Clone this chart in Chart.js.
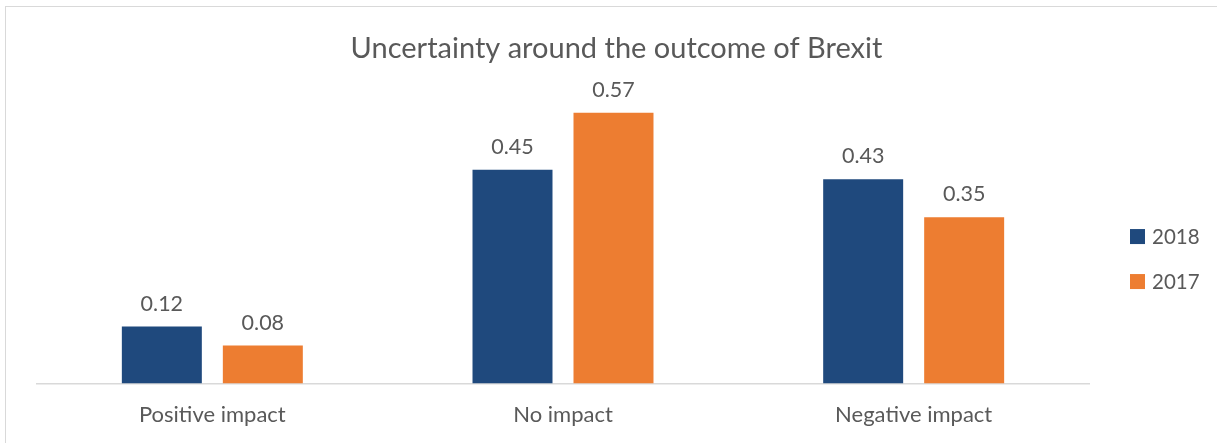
<!DOCTYPE html>
<html>
<head>
<meta charset="utf-8">
<script src="https://cdn.jsdelivr.net/npm/chart.js@4/dist/chart.umd.min.js"></script>
<style>
  html, body { margin: 0; padding: 0; background: #fff; overflow: hidden; }
  #wrap { position: relative; width: 1217px; height: 443px; }
  #frame { position: absolute; left: 5px; top: 6px; width: 1240px; height: 460px; border: 1.5px solid #d9d9d9; box-sizing: border-box; }
  canvas { position: absolute; left: 0; top: 0; }
</style>
</head>
<body>
<div id="wrap">
  <div id="frame"></div>
  <canvas id="brexitChart" width="1217" height="443"></canvas>
</div>
<script>
const categories = ['Positive impact', 'No impact', 'Negative impact'];
const seriesNames = ['2018', '2017'];
const values2018 = [0.12, 0.45, 0.43];
const values2017 = [0.08, 0.57, 0.35];
const colors = ['#1f497d', '#ed7d31'];
const chartTitle = 'Uncertainty around the outcome of Brexit';

const textColor = '#595959';
const fontFamily = 'Lato, "Open Sans", sans-serif';

// title centred on the whole frame, not only the plot area
const frameTitle = {
    id: 'frameTitle',
    afterDraw(chart) {
        const ctx = chart.ctx;
        ctx.save();
        ctx.font = '29px ' + fontFamily;
        ctx.fillStyle = textColor;
        ctx.textAlign = 'center';
        ctx.textBaseline = 'middle';
        ctx.fillText(chartTitle, chart.width / 2 + 8, 49);
        ctx.restore();
    }
};

// value labels above each bar
const valueLabels = {
    id: 'valueLabels',
    afterDatasetsDraw(chart) {
        const ctx = chart.ctx;
        ctx.save();
        ctx.font = '21.5px ' + fontFamily;
        ctx.fillStyle = textColor;
        ctx.textAlign = 'center';
        ctx.textBaseline = 'bottom';
        chart.data.datasets.forEach((ds, i) => {
            chart.getDatasetMeta(i).data.forEach((bar, j) => {
                ctx.fillText(ds.data[j].toFixed(2), bar.x, bar.y - 12);
            });
        });
        ctx.restore();
    }
};

// legend on the right, drawn by hand so it sits like the original
const sideLegend = {
    id: 'sideLegend',
    afterDraw(chart) {
        const ctx = chart.ctx;
        const area = chart.chartArea;
        const x = area.right + 41;
        const midY = (area.top + area.bottom) / 2 + 18;
        ctx.save();
        ctx.font = '20.5px ' + fontFamily;
        ctx.textBaseline = 'middle';
        chart.data.datasets.forEach((ds, i) => {
            const y = midY + (i - 0.5) * 45;
            ctx.fillStyle = ds.backgroundColor;
            ctx.fillRect(x, y - 7.5, 15, 15);
            ctx.fillStyle = textColor;
            ctx.fillText(ds.label, x + 22, y + 1);
        });
        ctx.restore();
    }
};

const ctx = document.getElementById('brexitChart').getContext('2d');
new Chart(ctx, {
    type: 'bar',
    data: {
        labels: categories,
        datasets: [{
            label: seriesNames[0],
            data: values2018,
            backgroundColor: colors[0],
            categoryPercentage: 0.576,
            barPercentage: 0.792
        }, {
            label: seriesNames[1],
            data: values2017,
            backgroundColor: colors[1],
            categoryPercentage: 0.576,
            barPercentage: 0.792
        }]
    },
    options: {
        responsive: false,
        animation: false,
        layout: {
            padding: { left: 37, right: 128, top: 98.5, bottom: 5 }
        },
        plugins: {
            legend: { display: false },
            tooltip: { enabled: false },
            title: { display: false }
        },
        scales: {
            x: {
                grid: { display: false },
                border: { color: '#d9d9d9', width: 1.5 },
                ticks: {
                    color: textColor,
                    font: { family: fontFamily, size: 22 },
                    padding: 10
                }
            },
            y: {
                display: false,
                min: 0,
                max: 0.6
            }
        }
    },
    plugins: [valueLabels, sideLegend, frameTitle]
});
</script>
</body>
</html>
